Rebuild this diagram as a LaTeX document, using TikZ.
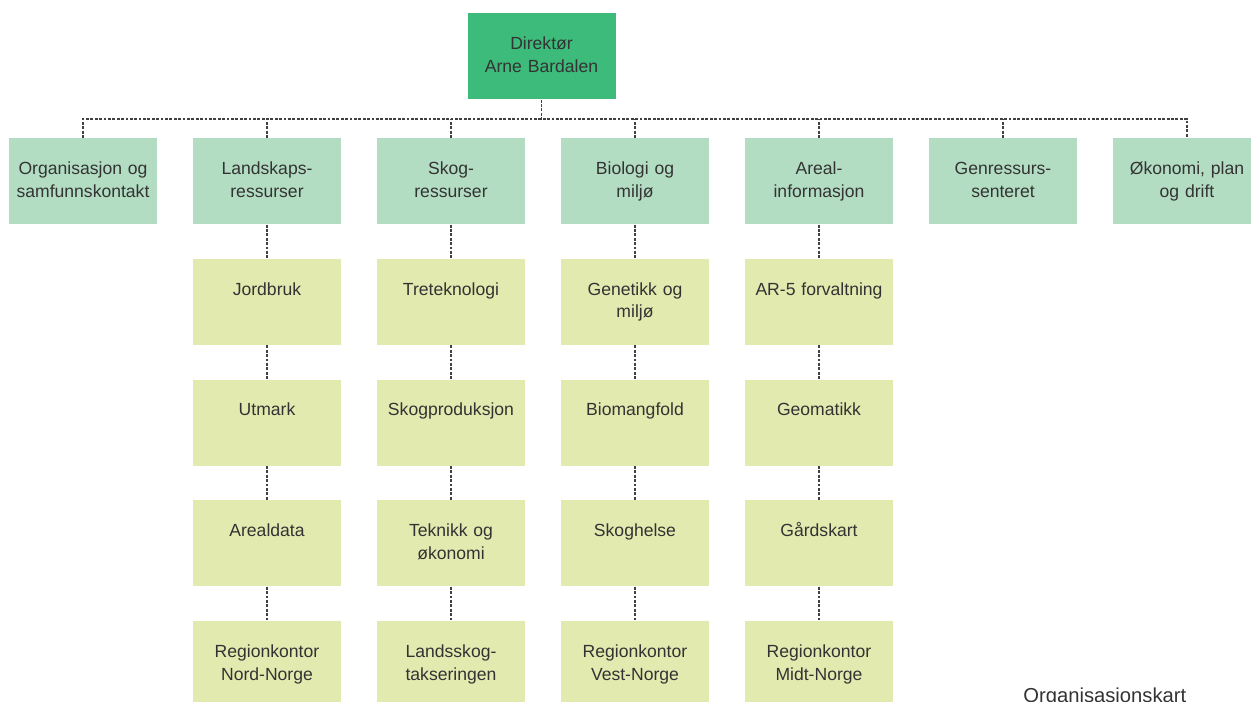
\documentclass[tikz,border=0pt]{standalone}
\usepackage{fontspec}
\setmainfont{Liberation Sans}
\usetikzlibrary{positioning}

\definecolor{dirgreen}{RGB}{61,187,122}
\definecolor{avdgreen}{RGB}{179,221,194}
\definecolor{seklime}{RGB}{227,234,176}
\definecolor{txtgrey}{RGB}{51,51,51}

\begin{document}
\begin{tikzpicture}[
  box/.style={inner sep=0pt, text width=2.96cm, align=center, text height=0.72cm, text depth=1.0cm,
    text=txtgrey, font=\fontsize{10}{13}\selectfont},
  dirbox/.style={box, fill=dirgreen},
  avdbox/.style={box, fill=avdgreen},
  seksjon/.style={box, fill=seklime},
  link/.style={draw=black!75, line width=0.7pt, dash pattern=on 1.6pt off 0.9pt}
]
\useasboundingbox (0,0) rectangle (25.02,-14.04);
\clip (0,0) rectangle (25.02,-14.04);

\node[dirbox, anchor=north] (dir) at (10.83,-0.26) {Direktør\\Arne Bardalen};

\node[avdbox, anchor=north] (org) at (1.66,-2.76) {Organisasjon og\\samfunnskontakt};
\node[avdbox, anchor=north] (land) at (5.34,-2.76) {Landskaps-\\ressurser};
\node[avdbox, anchor=north] (skog) at (9.02,-2.76) {Skog-\\ressurser};
\node[avdbox, anchor=north] (bio) at (12.70,-2.76) {Biologi og\\miljø};
\node[avdbox, anchor=north] (areal) at (16.38,-2.76) {Areal-\\informasjon};
\node[avdbox, anchor=north] (gen) at (20.06,-2.76) {Genressurs-\\senteret};
\node[avdbox, anchor=north] (okon) at (23.74,-2.76) {Økonomi, plan\\og drift};

\node[seksjon, below=0.68cm of land] (jord) {Jordbruk};
\node[seksjon, below=0.68cm of jord] (utmark) {Utmark};
\node[seksjon, below=0.68cm of utmark] (arealdata) {Arealdata};
\node[seksjon, below=0.68cm of arealdata] (nordnorge) {Regionkontor\\Nord-Norge};

\node[seksjon, below=0.68cm of skog] (tre) {Treteknologi};
\node[seksjon, below=0.68cm of tre] (skogprod) {Skogproduksjon};
\node[seksjon, below=0.68cm of skogprod] (teknikk) {Teknikk og\\økonomi};
\node[seksjon, below=0.68cm of teknikk] (landsskog) {Landsskog-\\takseringen};

\node[seksjon, below=0.68cm of bio] (genetikk) {Genetikk og\\miljø};
\node[seksjon, below=0.68cm of genetikk] (biomang) {Biomangfold};
\node[seksjon, below=0.68cm of biomang] (skoghelse) {Skoghelse};
\node[seksjon, below=0.68cm of skoghelse] (vestnorge) {Regionkontor\\Vest-Norge};

\node[seksjon, below=0.68cm of areal] (ar5) {AR-5 forvaltning};
\node[seksjon, below=0.68cm of ar5] (geomatikk) {Geomatikk};
\node[seksjon, below=0.68cm of geomatikk] (gards) {Gårdskart};
\node[seksjon, below=0.68cm of gards] (midtnorge) {Regionkontor\\Midt-Norge};

\draw[link] (dir.south) -- ++(0,-0.40);
\draw[link] (org.north) -- ++(0,0.38) -| (okon.north);
\draw[link] (land.north) -- ++(0,0.38);
\draw[link] (skog.north) -- ++(0,0.38);
\draw[link] (bio.north) -- ++(0,0.38);
\draw[link] (areal.north) -- ++(0,0.38);
\draw[link] (gen.north) -- ++(0,0.38);

\draw[link] (land) -- (jord) -- (utmark) -- (arealdata) -- (nordnorge);
\draw[link] (skog) -- (tre) -- (skogprod) -- (teknikk) -- (landsskog);
\draw[link] (bio) -- (genetikk) -- (biomang) -- (skoghelse) -- (vestnorge);
\draw[link] (areal) -- (ar5) -- (geomatikk) -- (gards) -- (midtnorge);

\node[anchor=north west, inner sep=0pt, text=txtgrey, font=\fontsize{11.5}{14}\selectfont] (kart) at (20.46,-13.76) {Organisasjonskart};
\end{tikzpicture}
\end{document}
